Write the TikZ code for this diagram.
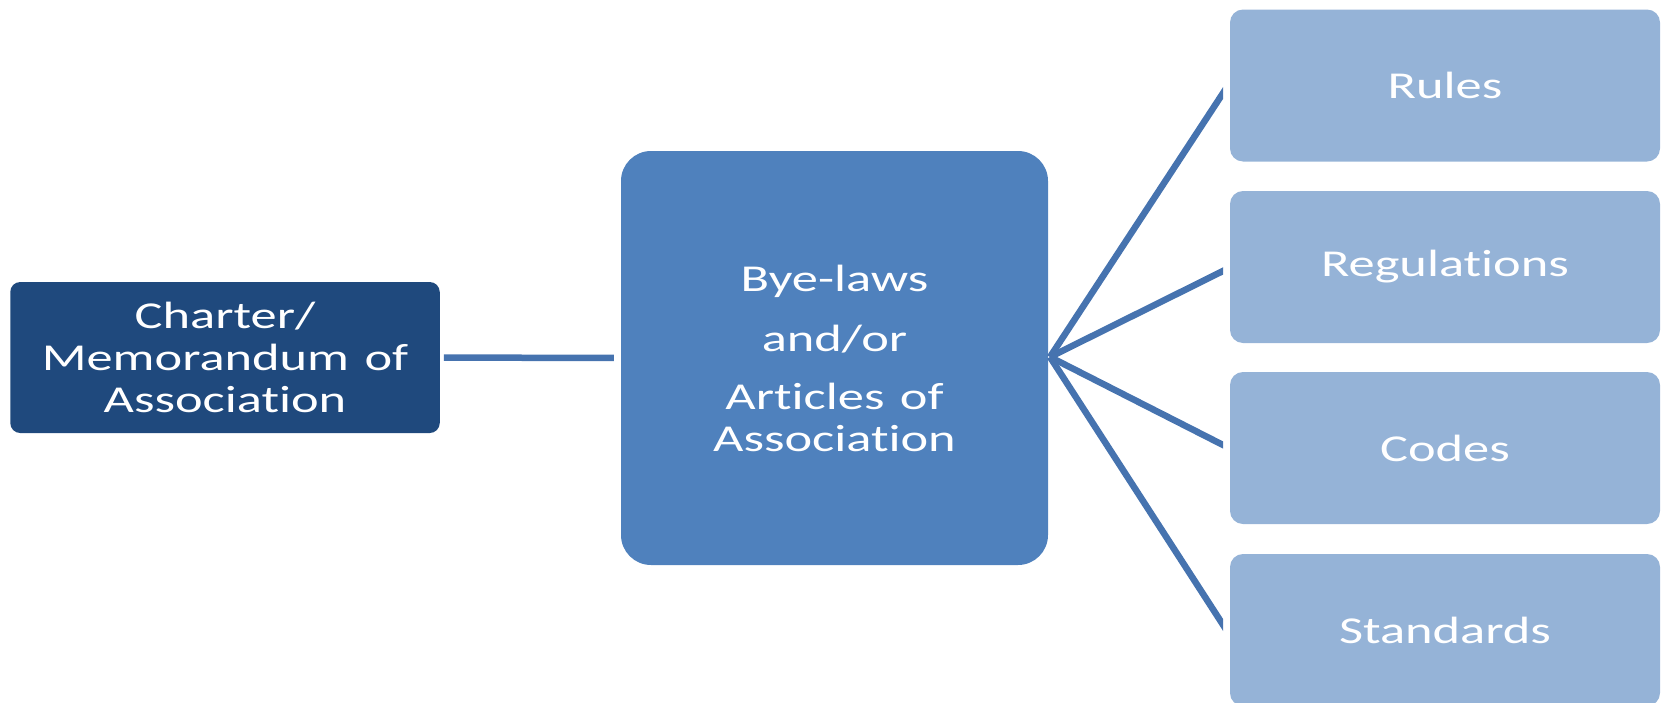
\documentclass[tikz,border=0pt]{standalone}
\usepackage{fontspec}
\setmainfont{Carlito}[FakeStretch=1.38, Ligatures=NoCommon, WordSpace=1.3]
\definecolor{darkbox}{HTML}{1F497D}
\definecolor{midbox}{HTML}{4F81BD}
\definecolor{lightbox}{HTML}{95B3D7}
\definecolor{linecol}{RGB}{70,115,175}
\tikzset{
  boxtext/.style={text=white, align=center, inner sep=0pt, font=\fontsize{38}{42}\selectfont},
  leftbox/.style={boxtext, fill=darkbox, rounded corners=10pt, minimum width=429.5pt, minimum height=151pt},
  midboxstyle/.style={boxtext, fill=midbox, rounded corners=30pt, minimum width=427pt, minimum height=414pt},
  rightbox/.style={boxtext, fill=lightbox, rounded corners=13pt, minimum width=430pt, minimum height=152pt},
  conn/.style={draw=linecol, line width=6.5pt}
}
\begin{document}
\begin{tikzpicture}[x=1pt,y=-1pt]
\useasboundingbox (0,0) rectangle (1663,702);
\node[leftbox] (charter) at (225,357.5) {Charter/\\Memorandum of\\Association};
\node[midboxstyle] (bye) at (834.5,358) {Bye-laws\\[18pt]and/or\\[16pt]Articles of\\Association};
\node[rightbox] (rules) at (1445,85.5) {Rules};
\node[rightbox] (regs) at (1445,267) {Regulations};
\node[rightbox] (codes) at (1445,448) {Codes};
\node[rightbox] (stds) at (1445,630) {Standards};
\draw[conn, shorten <=4pt, shorten >=7pt] (charter) -- (bye);
\coordinate (hub) at (1050,357);
\coordinate (e1) at (1227,87);
\coordinate (e2) at (1227,269);
\coordinate (e3) at (1227,447);
\coordinate (e4) at (1227,631);
\begin{scope}
\clip (1000,0) rectangle (1223,702);
\draw[conn] (hub) -- (e1);
\draw[conn] (hub) -- (e2);
\draw[conn] (hub) -- (e3);
\draw[conn] (hub) -- (e4);
\end{scope}
\end{tikzpicture}
\end{document}
